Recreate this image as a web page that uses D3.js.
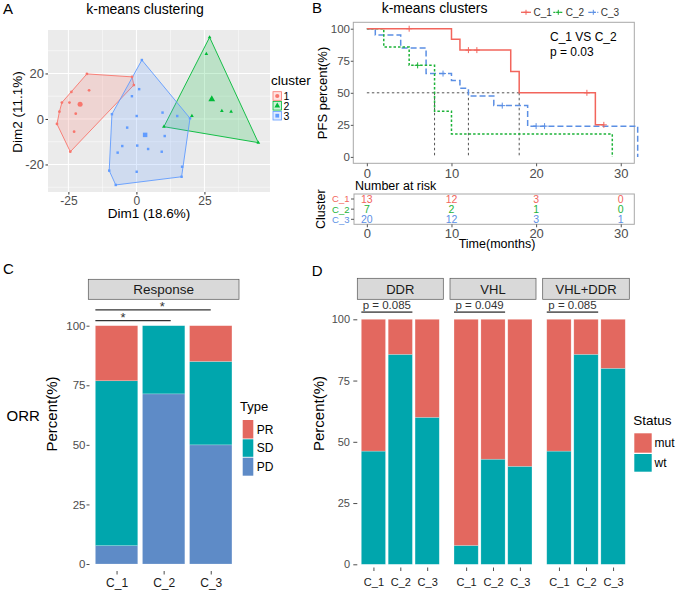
<!DOCTYPE html>
<html><head><meta charset="utf-8">
<script src="https://cdn.jsdelivr.net/npm/d3@7"></script>
<style>
body{margin:0;background:#fff}
svg{display:block}
text{font-family:"Liberation Sans",Arial,Helvetica,sans-serif}
</style>
</head><body>
<svg id="chart" width="676" height="592"></svg>
<script>
// ================= DATA =================
// Panel A : k-means clustering (PCA coordinates)
const clusterLabels = ["1", "2", "3"];
const cluster1Dim1 = [-18.2, -1.6, -0.95, -24.3, -29.2, -28.3, -27.4, -23.9, -17.4, -24.6, -22.3, -22.9];
const cluster1Dim2 = [19.8, 18.5, 14.9, -14.4, -2.2, 3.2, 7.2, 11.9, 12.6, 7.2, 2.3, -5.6];
const cluster2Dim1 = [26.9, 44.8, 10.1, 25.7, 31.4, 34.8, 20.4];
const cluster2Dim2 = [35.9, -10.4, -3.4, 28.6, 3.5, 3.2, 1.3];
const cluster3Dim1 = [2.0, 19.7, 16.8, 16.6, -7.6, -10.0, -9.0, 1.0, -1.65, 0.1, 9.6, 15.0, -3.4, 10.4, -5.2, 0.3, 4.3, 9.3, -6.9, 0.1];
const cluster3Dim2 = [25.9, 0.3, -21.0, -25.4, -29.0, -22.7, 2.1, 13.1, 10.0, 1.3, 2.8, 1.3, -3.8, -7.5, -11.9, -11.7, -13.2, -14.4, -14.8, -23.2];
const centroidDim1 = [-20.7, 27.7, 3.2];
const centroidDim2 = [6.5, 8.7, -7.0];
const dim1Ticks = [-25, 0, 25];
const dim2Ticks = [-20, 0, 20];

// Panel B : Kaplan-Meier PFS
const kmGroups = ["C_1", "C_2", "C_3"];
const kmTime1 = [0, 10, 11, 17, 18, 27, 28];
const kmSurv1 = [100, 91.7, 83.3, 66.7, 50, 25, 25];
const kmCensor1 = [5, 12, 13, 26, 28];
const kmTime2 = [0, 2, 5, 8, 10, 29];
const kmSurv2 = [100, 85.7, 71.4, 35.7, 17.9, 0];
const kmCensor2 = [6];
const kmTime3 = [0, 1, 4, 7, 10, 11, 12, 15, 19, 32];
const kmSurv3 = [100, 95, 85, 65, 59.5, 53.5, 47.5, 40, 24, 0];
const kmCensor3 = [9, 16, 20, 21];
const medianTimes = [8, 12, 18];
const kmTimeTicks = [0, 10, 20, 30];
const kmSurvTicks = [0, 25, 50, 75, 100];
const riskTimes = [0, 10, 20, 30];
const risk1 = [13, 12, 3, 0];
const risk2 = [7, 2, 1, 0];
const risk3 = [20, 12, 3, 1];
const kmCompare = ["C_1 VS C_2", "p = 0.03"];

// Panel C : response
const clusterNames = ["C_1", "C_2", "C_3"];
const responseTypes = ["PR", "SD", "PD"];
const pdPercent = [7.7, 71.4, 50];
const sdPercent = [69.2, 28.6, 35];
const prPercent = [23.1, 0, 15];
const percentTicks = [0, 25, 50, 75, 100];
const sigFrom = [0.55, 0.55];
const sigTo = [2.15, 3.0];
const sigStarAt = [1.14, 1.97];
const sigLevel = [102.1, 106.6];
const sigLabel = ["*", "*"];

// Panel D : mutation status
const geneSets = ["DDR", "VHL", "VHL+DDR"];
const statusTypes = ["mut", "wt"];
const wtDDR = [46.2, 85.7, 60];
const mutDDR = [53.8, 14.3, 40];
const wtVHL = [7.7, 42.9, 40];
const mutVHL = [92.3, 57.1, 60];
const wtVHLDDR = [46.2, 85.7, 80];
const mutVHLDDR = [53.8, 14.3, 20];
const geneP = ["p = 0.085", "p = 0.049", "p = 0.085"];
const pLineFrom = 0.55, pLineTo = 2.45, pLineLevel = 102.9;

// ================= HELPERS =================
const svg = d3.select("#chart");
function txt(g, x, y, s, size, fill = "#000", anchor = "start") {
  return g.append("text").attr("x", x).attr("y", y).attr("fill", fill)
    .attr("text-anchor", anchor).style("font-size", size + "px").text(s);
}
function vtxt(g, x, y, s, size, fill = "#000") {
  return g.append("text").attr("transform", `translate(${x},${y}) rotate(-90)`)
    .attr("text-anchor", "middle").attr("fill", fill).style("font-size", size + "px").text(s);
}
function styleAxis(g, size, color, tickColor) {
  g.attr("font-family", null).attr("font-size", null);
  g.select(".domain").remove();
  g.selectAll(".tick line").attr("stroke", tickColor);
  g.selectAll(".tick text").attr("fill", color).style("font-size", size + "px");
}

// ================= PANEL A =================
const gA = svg.append("g");
const xA = d3.scaleLinear().domain([-32.5, 49.1]).range([48, 270]);
const yA = d3.scaleLinear().domain([-32.1, 39.1]).range([192, 30]);
gA.append("rect").attr("x", 48).attr("y", 30).attr("width", 222).attr("height", 162).attr("fill", "#EBEBEB");
const minorOf = (ticks, dom) => {
  const st = ticks[1] - ticks[0];
  return [ticks[0] - st / 2, ...ticks.map(t => t + st / 2)].filter(v => v > dom[0] && v < dom[1]);
};
gA.selectAll(null).data(minorOf(dim1Ticks, xA.domain())).join("line")
  .attr("x1", d => xA(d)).attr("x2", d => xA(d)).attr("y1", 30).attr("y2", 192)
  .attr("stroke", "#fff").attr("stroke-width", 0.5);
gA.selectAll(null).data(minorOf(dim2Ticks, yA.domain())).join("line")
  .attr("y1", d => yA(d)).attr("y2", d => yA(d)).attr("x1", 48).attr("x2", 270)
  .attr("stroke", "#fff").attr("stroke-width", 0.5);
gA.selectAll(null).data(dim1Ticks).join("line")
  .attr("x1", d => xA(d)).attr("x2", d => xA(d)).attr("y1", 30).attr("y2", 192)
  .attr("stroke", "#fff").attr("stroke-width", 1);
gA.selectAll(null).data(dim2Ticks).join("line")
  .attr("y1", d => yA(d)).attr("y2", d => yA(d)).attr("x1", 48).attr("x2", 270)
  .attr("stroke", "#fff").attr("stroke-width", 1);

const clusterColors = ["#F8766D", "#00BA38", "#619CFF"];
const clusterShapes = [d3.symbolCircle, d3.symbolTriangle, d3.symbolSquare];
const clusterData = [
  [cluster1Dim1, cluster1Dim2], [cluster2Dim1, cluster2Dim2], [cluster3Dim1, cluster3Dim2]
];
clusterData.forEach(([d1, d2], i) => {
  const pts = d1.map((v, j) => [xA(v), yA(d2[j])]);
  const hull = d3.polygonHull(pts);
  gA.append("path").attr("d", "M" + hull.join("L") + "Z")
    .attr("fill", clusterColors[i]).attr("fill-opacity", 0.2)
    .attr("stroke", clusterColors[i]).attr("stroke-width", 0.9);
});
clusterData.forEach(([d1, d2], i) => {
  gA.selectAll(null).data(d1.map((v, j) => [v, d2[j]])).join("path")
    .attr("transform", d => `translate(${xA(d[0])},${yA(d[1])})`)
    .attr("d", d3.symbol(clusterShapes[i], 6)).attr("fill", clusterColors[i]);
  gA.append("path").attr("transform", `translate(${xA(centroidDim1[i])},${yA(centroidDim2[i])})`)
    .attr("d", d3.symbol(clusterShapes[i], 20)).attr("fill", clusterColors[i]);
});
const axAx = gA.append("g").attr("transform", "translate(0,192)")
  .call(d3.axisBottom(xA).tickValues(dim1Ticks).tickSize(2.5).tickPadding(1.5).tickFormat(d => String(d)));
styleAxis(axAx, 12, "#4D4D4D", "#333");
const axAy = gA.append("g").attr("transform", "translate(48,0)")
  .call(d3.axisLeft(yA).tickValues(dim2Ticks).tickSize(2.5).tickPadding(1.5).tickFormat(d => String(d)));
styleAxis(axAy, 13, "#4D4D4D", "#333");
txt(gA, 149, 218, "Dim1 (18.6%)", 13.5, "#000", "middle");
vtxt(gA, 22, 112, "Dim2 (11.1%)", 13.5);
txt(gA, 145, 14, "k-means clustering", 14, "#000", "middle");
txt(gA, 3, 14, "A", 15);
// legend A
txt(gA, 271, 85, "cluster", 13.5);
const legAy = [96, 105.8, 115.7];
clusterLabels.forEach((lab, i) => {
  gA.append("rect").attr("x", 273).attr("y", legAy[i] - 4.3).attr("width", 8.5).attr("height", 8.6)
    .attr("fill", clusterColors[i]).attr("fill-opacity", 0.2).attr("stroke", clusterColors[i]).attr("stroke-width", 0.8);
  gA.append("path").attr("transform", `translate(277.25,${legAy[i]})`)
    .attr("d", d3.symbol(clusterShapes[i], 14)).attr("fill", clusterColors[i]);
  txt(gA, 283.5, legAy[i] + 3.8, lab, 10.5);
});

// ================= PANEL B =================
const gB = svg.append("g");
const xB = d3.scaleLinear().domain([-1.6, 31.6]).range([353.3, 634.3]);
const yB = d3.scaleLinear().domain([-5, 105]).range([163.3, 22.3]);
const kmColors = ["#F2655C", "#1DB338", "#5B8FE4"];
const kmDash = [null, "2.5,2", "6,3"];
gB.append("rect").attr("x", 353.3).attr("y", 22.3).attr("width", 281).attr("height", 141)
  .attr("fill", "none").attr("stroke", "#A8A8A8").attr("stroke-width", 1);
// median lines
gB.append("line").attr("x1", xB(0)).attr("x2", xB(d3.max(medianTimes))).attr("y1", yB(50)).attr("y2", yB(50))
  .attr("stroke", "#555").attr("stroke-dasharray", "2.5,2.5").attr("stroke-width", 1);
gB.selectAll(null).data(medianTimes).join("line")
  .attr("x1", d => xB(d)).attr("x2", d => xB(d)).attr("y1", yB(50)).attr("y2", yB(0))
  .attr("stroke", "#555").attr("stroke-dasharray", "2.5,2.5").attr("stroke-width", 1);
const kmSeries = [[kmTime1, kmSurv1, kmCensor1], [kmTime2, kmSurv2, kmCensor2], [kmTime3, kmSurv3, kmCensor3]];
const kmLine = d3.line().x(d => xB(d[0])).y(d => yB(d[1])).curve(d3.curveStepAfter);
const survAt = (t, s, x) => s[Math.max(0, d3.bisectRight(t, x) - 1)];
[2, 1, 0].forEach(i => {
  const [t, s, c] = kmSeries[i];
  const p = gB.append("path").attr("d", kmLine(t.map((v, j) => [v, s[j]])))
    .attr("fill", "none").attr("stroke", kmColors[i]).attr("stroke-width", 1.5);
  if (kmDash[i]) p.attr("stroke-dasharray", kmDash[i]);
  gB.selectAll(null).data(c).join("path")
    .attr("d", d => { const x = xB(d), y = yB(survAt(t, s, d)); return `M${x - 3},${y}H${x + 3}M${x},${y - 3}V${y + 3}`; })
    .attr("stroke", kmColors[i]).attr("stroke-width", 1);
});
const axBx = gB.append("g").attr("transform", "translate(0,163.3)")
  .call(d3.axisBottom(xB).tickValues(kmTimeTicks).tickSize(3).tickPadding(2.5));
styleAxis(axBx, 13, "#4D4D4D", "#555");
const axBy = gB.append("g").attr("transform", "translate(353.3,0)")
  .call(d3.axisLeft(yB).tickValues(kmSurvTicks).tickSize(2.5).tickPadding(0.8));
styleAxis(axBy, 11.5, "#4D4D4D", "#555");
vtxt(gB, 327, 93, "PFS percent(%)", 13);
txt(gB, 381.7, 13.3, "k-means clusters", 14);
txt(gB, 312, 12.5, "B", 15);
txt(gB, 550, 40.5, kmCompare[0], 12);
txt(gB, 550, 56, kmCompare[1], 12);
// legend B
const legBx = [521, 553.3, 588.3];
kmGroups.forEach((g, i) => {
  const l = gB.append("line").attr("x1", legBx[i]).attr("x2", legBx[i] + 10).attr("y1", 12.3).attr("y2", 12.3)
    .attr("stroke", kmColors[i]).attr("stroke-width", 1.3);
  if (kmDash[i]) l.attr("stroke-dasharray", i === 1 ? "2,1.5" : "3,1.5");
  const cx = legBx[i] + 5;
  gB.append("path").attr("d", `M${cx - 2.5},12.3H${cx + 2.5}M${cx},9.8V14.8`).attr("stroke", kmColors[i]).attr("stroke-width", 1);
  txt(gB, legBx[i] + 12.5, 15.9, g, 10, "#333");
});
// risk table
txt(gB, 355, 190, "Number at risk", 12.5);
gB.append("rect").attr("x", 354).attr("y", 194).attr("width", 280.3).attr("height", 30.3)
  .attr("fill", "none").attr("stroke", "#A8A8A8").attr("stroke-width", 1);
const yR = d3.scalePoint().domain(kmGroups).range([199, 219.3]);
const risks = [risk1, risk2, risk3];
kmGroups.forEach((g, i) => {
  txt(gB, 349.5, yR(g) + 3.4, g, 9.5, kmColors[i], "end");
  gB.append("line").attr("x1", 351).attr("x2", 354).attr("y1", yR(g)).attr("y2", yR(g)).attr("stroke", "#555");
  gB.selectAll(null).data(riskTimes).join("text")
    .attr("x", d => xB(d)).attr("y", yR(g) + 3.6).attr("text-anchor", "middle")
    .attr("fill", kmColors[i]).style("font-size", "10.5px").text((d, j) => risks[i][j]);
});
const axRx = gB.append("g").attr("transform", "translate(0,224.3)")
  .call(d3.axisBottom(xB).tickValues(kmTimeTicks).tickSize(3).tickPadding(1));
styleAxis(axRx, 13, "#4D4D4D", "#555");
txt(gB, 497, 247.5, "Time(months)", 12.5, "#000", "middle");
vtxt(gB, 325, 209.2, "Cluster", 12.5);

// ================= PANEL C =================
const gC = svg.append("g");
const xC = d3.scalePoint().domain(clusterNames).range([88.3, 239]).padding(0.6);
const bwC = xC.step() * 0.9;
const yC = d3.scaleLinear().domain([0, 100]).range([564, 325.7]);
const colC = d3.scaleOrdinal().domain(responseTypes).range(["#E3685F", "#00A6AD", "#5E8BC7"]);
const respRows = clusterNames.map((g, i) => ({ group: g, PD: pdPercent[i], SD: sdPercent[i], PR: prPercent[i] }));
const respStack = d3.stack().keys(["PD", "SD", "PR"])(respRows);
gC.selectAll("g.layer").data(respStack).join("g").attr("class", "layer").attr("fill", d => colC(d.key))
  .selectAll("rect").data(d => d).join("rect")
  .attr("x", d => xC(d.data.group) - bwC / 2).attr("width", bwC)
  .attr("y", d => yC(d[1])).attr("height", d => yC(d[0]) - yC(d[1]))
  .attr("stroke", "#fff").attr("stroke-opacity", 0.35).attr("stroke-width", 0.6);
// strip
gC.append("rect").attr("x", 88.3).attr("y", 279.3).attr("width", 150.7).attr("height", 20)
  .attr("fill", "#D9D9D9").attr("stroke", "#555").attr("stroke-width", 0.7);
txt(gC, 163.7, 294, "Response", 13.5, "#1A1A1A", "middle");
// significance
const idxC = v => xC(clusterNames[0]) + (v - 1) * xC.step();
sigLevel.forEach((lv, i) => {
  gC.append("line").attr("x1", idxC(sigFrom[i])).attr("x2", idxC(sigTo[i])).attr("y1", yC(lv)).attr("y2", yC(lv))
    .attr("stroke", "#333").attr("stroke-width", 1.2);
  txt(gC, idxC(sigStarAt[i]), yC(lv) + 1.5, sigLabel[i], 13, "#333", "middle");
});
const axCy = gC.append("g").attr("transform", "translate(89.5,0)")
  .call(d3.axisLeft(yC).tickValues(percentTicks).tickSize(3).tickPadding(1));
styleAxis(axCy, 11.5, "#4D4D4D", "#4D4D4D");
const axCx = gC.append("g").attr("transform", "translate(0,571)")
  .call(d3.axisBottom(xC).tickSize(3.5).tickPadding(4));
styleAxis(axCx, 12, "#1A1A1A", "#4D4D4D");
vtxt(gC, 57, 414, "Percent(%)", 15);
txt(gC, 6.5, 421, "ORR", 15);
txt(gC, 3, 274, "C", 15);
// legend C
txt(gC, 240, 411, "Type", 13);
const legC = [[420, 438.5], [439.3, 456.8], [457.7, 475.7]];
responseTypes.forEach((t, i) => {
  gC.append("rect").attr("x", 242.7).attr("y", legC[i][0]).attr("width", 10.6).attr("height", legC[i][1] - legC[i][0])
    .attr("fill", colC(t));
  txt(gC, 256.7, (legC[i][0] + legC[i][1]) / 2 + 4.3, t, 12);
});

// ================= PANEL D =================
const gD = svg.append("g");
const panelsD = [[357.3, 443.3], [450, 536], [542.7, 629.3]];
const yD = d3.scaleLinear().domain([0, 100]).range([564.3, 319.3]);
const colD = d3.scaleOrdinal().domain(statusTypes).range(["#E3685F", "#00A6AD"]);
const wtSets = [wtDDR, wtVHL, wtVHLDDR];
const mutSets = [mutDDR, mutVHL, mutVHLDDR];
geneSets.forEach((name, k) => {
  const x = d3.scalePoint().domain(clusterNames).range(panelsD[k]).padding(0.6);
  const bw = x.step() * 0.9;
  const rows = clusterNames.map((g, i) => ({ group: g, wt: wtSets[k][i], mut: mutSets[k][i] }));
  const st = d3.stack().keys(["wt", "mut"])(rows);
  gD.append("g").selectAll("g").data(st).join("g").attr("fill", d => colD(d.key))
    .selectAll("rect").data(d => d).join("rect")
    .attr("x", d => x(d.data.group) - bw / 2).attr("width", bw)
    .attr("y", d => yD(d[1])).attr("height", d => yD(d[0]) - yD(d[1]))
    .attr("stroke", "#fff").attr("stroke-opacity", 0.35).attr("stroke-width", 0.6);
  gD.append("rect").attr("x", panelsD[k][0]).attr("y", 278.3).attr("width", panelsD[k][1] - panelsD[k][0]).attr("height", 21)
    .attr("fill", "#D9D9D9").attr("stroke", "#555").attr("stroke-width", 0.7);
  txt(gD, (panelsD[k][0] + panelsD[k][1]) / 2, 293.5, name, 13, "#1A1A1A", "middle");
  const idx = v => x(clusterNames[0]) + (v - 1) * x.step();
  gD.append("line").attr("x1", idx(pLineFrom)).attr("x2", idx(pLineTo)).attr("y1", yD(pLineLevel)).attr("y2", yD(pLineLevel))
    .attr("stroke", "#666").attr("stroke-width", 1.8);
  txt(gD, (idx(pLineFrom) + idx(pLineTo)) / 2, yD(pLineLevel) - 3.3, geneP[k], 11.5, "#333", "middle");
  const ax = gD.append("g").attr("transform", "translate(0,567.5)")
    .call(d3.axisBottom(x).tickSize(3.5).tickPadding(7.4));
  styleAxis(ax, 11, "#1A1A1A", "#4D4D4D");
});
const axDy = gD.append("g").attr("transform", "translate(357.3,0)")
  .call(d3.axisLeft(yD).tickValues(percentTicks).tickSize(4).tickPadding(3.3));
styleAxis(axDy, 11, "#4D4D4D", "#4D4D4D");
vtxt(gD, 323.5, 413.5, "Percent(%)", 15);
txt(gD, 311.7, 275.5, "D", 15);
// legend D
txt(gD, 633.3, 425, "Status", 13.5);
const legD = [[433.3, 452.7], [454, 471.7]];
statusTypes.forEach((t, i) => {
  gD.append("rect").attr("x", 634.3).attr("y", legD[i][0]).attr("width", 17.4).attr("height", legD[i][1] - legD[i][0])
    .attr("fill", colD(t));
  txt(gD, 654.5, (legD[i][0] + legD[i][1]) / 2 + 4.2, t, 12);
});
</script>
</body></html>
